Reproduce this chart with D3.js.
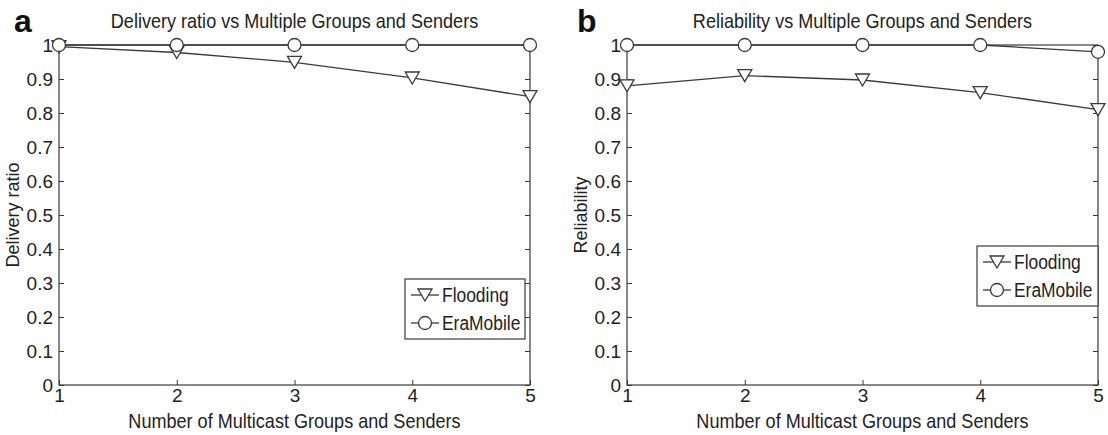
<!DOCTYPE html>
<html><head><meta charset="utf-8">
<script src="https://cdn.jsdelivr.net/npm/d3@7"></script>
<style>body{margin:0;background:#fff;} svg{display:block;font-family:"Liberation Sans",Arial,sans-serif;}</style>
</head><body>
<svg id="c" width="1108" height="435"></svg>
<script>
const xValues = [1, 2, 3, 4, 5];
const yTicks = [0, 0.1, 0.2, 0.3, 0.4, 0.5, 0.6, 0.7, 0.8, 0.9, 1];
const yTickLabels = ["0", "0.1", "0.2", "0.3", "0.4", "0.5", "0.6", "0.7", "0.8", "0.9", "1"];
const seriesNames = ["Flooding", "EraMobile"];
const deliveryFlooding = [0.995, 0.978, 0.949, 0.903, 0.848];
const deliveryEraMobile = [1, 1, 1, 1, 1];
const reliabilityFlooding = [0.88, 0.91, 0.897, 0.86, 0.81];
const reliabilityEraMobile = [1, 1, 1, 1, 0.98];
const titles = ["Delivery ratio vs Multiple Groups and Senders", "Reliability vs Multiple Groups and Senders"];
const yLabels = ["Delivery ratio", "Reliability"];
const xLabel = "Number of Multicast Groups and Senders";
const panelLetters = ["a", "b"];

const svg = d3.select("#c");
const col = "#3a3a3a";
const txt = "#222";

function condense(sel, f) {
  sel.each(function() {
    const w = this.getComputedTextLength();
    d3.select(this).attr("textLength", w * f).attr("lengthAdjust", "spacingAndGlyphs");
  });
}

const panels = [
  {x0: 59, x1: 530, letterX: 14, ylabX: 19, flood: deliveryFlooding, era: deliveryEraMobile, leg: [405, 279, 120, 60]},
  {x0: 627, x1: 1098, letterX: 577, ylabX: 587, flood: reliabilityFlooding, era: reliabilityEraMobile, leg: [977, 246, 121, 60]}
];
const yTop = 45, yBot = 385;

function tri(g, cx, cy) {
  const w = 7, h = 12;
  g.append("path").attr("d", `M${cx - w},${cy - h/2} L${cx + w},${cy - h/2} L${cx},${cy + h/2} Z`)
    .attr("fill", "#fff").attr("stroke", col).attr("stroke-width", 1.3);
}
function circ(g, cx, cy) {
  g.append("circle").attr("cx", cx).attr("cy", cy).attr("r", 6.5)
    .attr("fill", "#fff").attr("stroke", col).attr("stroke-width", 1.3);
}

panels.forEach((p, i) => {
  const x = d3.scaleLinear().domain([1, 5]).range([p.x0, p.x1]);
  const y = d3.scaleLinear().domain([0, 1]).range([yBot, yTop]);
  const g = svg.append("g");

  g.append("rect").attr("x", p.x0).attr("y", yTop).attr("width", p.x1 - p.x0).attr("height", yBot - yTop)
    .attr("fill", "none").attr("stroke", col).attr("stroke-width", 1.2);

  const ya = g.append("g").attr("transform", `translate(${p.x0},0)`)
    .call(d3.axisLeft(y).tickValues(yTicks).tickFormat((d, k) => yTickLabels[k]).tickSizeInner(-5).tickSizeOuter(0).tickPadding(6));
  ya.select(".domain").remove();
  ya.selectAll("line").attr("stroke", col);
  ya.selectAll("text").attr("font-size", 19).attr("fill", txt).attr("dy", "0.36em");
  const yr = g.append("g").attr("transform", `translate(${p.x1},0)`)
    .call(d3.axisRight(y).tickValues(yTicks).tickFormat("").tickSizeInner(-5).tickSizeOuter(0));
  yr.select(".domain").remove();
  yr.selectAll("line").attr("stroke", col);
  const xa = g.append("g").attr("transform", `translate(0,${yBot})`)
    .call(d3.axisBottom(x).tickValues(xValues).tickFormat(d3.format("d")).tickSizeInner(-5).tickSizeOuter(0).tickPadding(4));
  xa.select(".domain").remove();
  xa.selectAll("line").attr("stroke", col);
  xa.selectAll("text").attr("font-size", 19).attr("fill", txt);
  const xt = g.append("g").attr("transform", `translate(0,${yTop})`)
    .call(d3.axisTop(x).tickValues(xValues).tickFormat("").tickSizeInner(-5).tickSizeOuter(0));
  xt.select(".domain").remove();
  xt.selectAll("line").attr("stroke", col);

  g.append("text").attr("x", (p.x0 + p.x1) / 2).attr("y", 28).attr("text-anchor", "middle")
    .attr("font-size", 21).attr("fill", txt).text(titles[i]).call(condense, 0.86);
  g.append("text").attr("x", p.letterX).attr("y", 32).attr("font-size", 32).attr("font-weight", "bold")
    .attr("fill", "#111").text(panelLetters[i]);
  g.append("text").attr("x", (p.x0 + p.x1) / 2).attr("y", 428).attr("text-anchor", "middle")
    .attr("font-size", 21).attr("fill", txt).text(xLabel).call(condense, 0.86);
  g.append("text").attr("transform", `translate(${p.ylabX},${(yTop + yBot) / 2}) rotate(-90)`)
    .attr("text-anchor", "middle").attr("font-size", 18).attr("fill", txt).text(yLabels[i]);

  const line = d3.line().x((d, k) => x(xValues[k])).y(d => y(d));
  g.append("path").datum(p.flood).attr("d", line).attr("fill", "none").attr("stroke", col).attr("stroke-width", 1.3);
  g.append("path").datum(p.era).attr("d", line).attr("fill", "none").attr("stroke", col).attr("stroke-width", 1.3);
  p.flood.forEach((v, k) => tri(g, x(xValues[k]), y(v)));
  p.era.forEach((v, k) => circ(g, x(xValues[k]), y(v)));

  const [lx, ly, lw, lh] = p.leg;
  const lg = g.append("g");
  lg.append("rect").attr("x", lx).attr("y", ly).attr("width", lw).attr("height", lh)
    .attr("fill", "#fff").attr("stroke", col).attr("stroke-width", 1.2);
  [0, 1].forEach(k => {
    const cy = ly + 16 + k * 28;
    lg.append("line").attr("x1", lx + 6).attr("x2", lx + 34).attr("y1", cy).attr("y2", cy).attr("stroke", col).attr("stroke-width", 1.3);
    if (k === 0) tri(lg, lx + 20, cy); else circ(lg, lx + 20, cy);
    lg.append("text").attr("x", lx + 37).attr("y", cy + 7).attr("font-size", 20).attr("fill", txt).text(seriesNames[k]).call(condense, 0.87);
  });
});
</script>
</body></html>
